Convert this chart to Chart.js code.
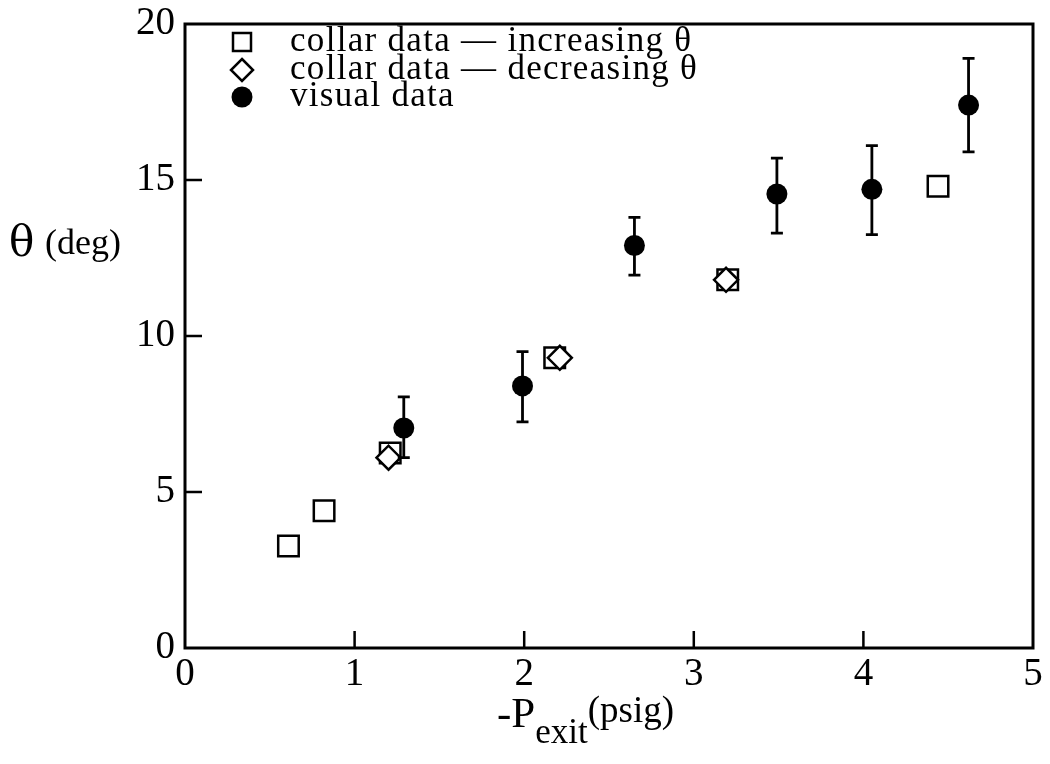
<!DOCTYPE html>
<html><head><meta charset="utf-8">
<script src="https://cdn.jsdelivr.net/npm/chart.js@4.4.0/dist/chart.umd.min.js"></script>
<style>html,body{margin:0;padding:0;background:#fff;}</style>
</head><body>
<canvas id="c" width="1050" height="764"></canvas>
<script>
// collar data — increasing theta
const incX = [0.61, 0.82, 1.21, 2.18, 3.20, 4.44];
const incY = [3.27, 4.40, 6.25, 9.30, 11.80, 14.80];
// collar data — decreasing theta
const decX = [1.20, 2.21, 3.19];
const decY = [6.10, 9.30, 11.80];
// visual data with error bars
const visX = [1.29, 1.99, 2.65, 3.49, 4.05, 4.62];
const visY = [7.05, 8.40, 12.90, 14.55, 14.70, 17.40];
const visHi = [8.05, 9.50, 13.80, 15.70, 16.10, 18.90];
const visLo = [6.10, 7.25, 11.95, 13.30, 13.25, 15.90];
// axis ticks
const xTicks = [0, 1, 2, 3, 4, 5];
const yTicks = [0, 5, 10, 15, 20];
const legendLabels = ['collar data \u2014 increasing \u03b8', 'collar data \u2014 decreasing \u03b8', 'visual data'];

const SERIF = '"Liberation Serif", "Times New Roman", serif';
const toPts = (xs, ys) => xs.map((x, i) => ({x: x, y: ys[i]}));

const errorBars = {
  id: 'errorBars',
  afterDatasetsDraw(chart) {
    const ctx = chart.ctx, xs = chart.scales.x, ys = chart.scales.y;
    ctx.save();
    ctx.strokeStyle = '#000';
    ctx.lineWidth = 2.8;
    visX.forEach((x, i) => {
      const px = xs.getPixelForValue(x);
      const top = ys.getPixelForValue(visHi[i]);
      const bot = ys.getPixelForValue(visLo[i]);
      ctx.beginPath();
      ctx.moveTo(px, top); ctx.lineTo(px, bot);
      ctx.moveTo(px - 6, top); ctx.lineTo(px + 6, top);
      ctx.moveTo(px - 6, bot); ctx.lineTo(px + 6, bot);
      ctx.stroke();
    });
    ctx.restore();
  }
};

const frame = {
  id: 'frame',
  afterDraw(chart) {
    const ctx = chart.ctx, a = chart.chartArea, xs = chart.scales.x, ys = chart.scales.y;
    ctx.save();
    ctx.strokeStyle = '#000';
    ctx.lineWidth = 3;
    ctx.strokeRect(a.left, a.top, a.right - a.left, a.bottom - a.top);
    ctx.lineWidth = 2.5;
    ctx.beginPath();
    xTicks.slice(1, -1).forEach(v => {
      const px = xs.getPixelForValue(v);
      ctx.moveTo(px, a.bottom); ctx.lineTo(px, a.bottom - 17);
    });
    yTicks.slice(1, -1).forEach(v => {
      const py = ys.getPixelForValue(v);
      ctx.moveTo(a.left, py); ctx.lineTo(a.left + 17, py);
    });
    ctx.stroke();

    // legend
    const lx = 242, rows = [42, 70, 97];
    ctx.lineWidth = 2.5;
    ctx.fillStyle = '#fff';
    ctx.beginPath(); ctx.rect(lx - 9, rows[0] - 9, 18, 18); ctx.fill(); ctx.stroke();
    ctx.beginPath();
    ctx.moveTo(lx, rows[1] - 11); ctx.lineTo(lx + 11, rows[1]); ctx.lineTo(lx, rows[1] + 11); ctx.lineTo(lx - 11, rows[1]); ctx.closePath();
    ctx.fill(); ctx.stroke();
    ctx.fillStyle = '#000';
    ctx.beginPath(); ctx.arc(lx, rows[2], 10.5, 0, Math.PI * 2); ctx.fill();
    ctx.font = '35px ' + SERIF;
    ctx.letterSpacing = '1.3px';
    ctx.textBaseline = 'alphabetic';
    ctx.textAlign = 'left';
    legendLabels.forEach((t, i) => ctx.fillText(t, 290, rows[i] + 9));
    ctx.letterSpacing = '0px';

    // y title
    ctx.font = '42px "DejaVu Serif", serif';
    ctx.fillText('\u03b8', 9, 256);
    ctx.font = '36px ' + SERIF;
    ctx.fillText('(deg)', 45, 254);

    // x title
    let x0 = 497;
    ctx.font = '43px ' + SERIF;
    ctx.fillText('-P', x0, 727);
    x0 += ctx.measureText('-P').width;
    ctx.font = '35px ' + SERIF;
    ctx.fillText('exit', x0, 743);
    x0 += ctx.measureText('exit').width;
    ctx.font = '37px ' + SERIF;
    ctx.fillText('(psig)', x0, 722);
    ctx.restore();
  }
};

new Chart(document.getElementById('c'), {
  type: 'scatter',
  data: {
    datasets: [
      { label: legendLabels[2], data: toPts(visX, visY), order: 0,
        pointStyle: 'circle', pointRadius: 10.5, pointHoverRadius: 10.5,
        backgroundColor: '#000', borderColor: '#000', borderWidth: 0 },
      { label: legendLabels[1], data: toPts(decX, decY), order: 1,
        pointStyle: 'rectRot', pointRadius: 12, pointHoverRadius: 12,
        backgroundColor: '#fff', borderColor: '#000', borderWidth: 2.5 },
      { label: legendLabels[0], data: toPts(incX, incY), order: 2,
        pointStyle: 'rect', pointRadius: 14.5, pointHoverRadius: 14.5,
        backgroundColor: '#fff', borderColor: '#000', borderWidth: 2.5 }
    ]
  },
  options: {
    responsive: false,
    devicePixelRatio: 1,
    animation: false,
    layout: { padding: { left: 0, top: 24, right: 11, bottom: 0 } },
    plugins: { legend: { display: false }, tooltip: { enabled: false } },
    scales: {
      x: {
        type: 'linear', min: 0, max: 5,
        afterFit: s => { s.height = 116; s.paddingLeft = 0; s.paddingRight = 0; },
        afterBuildTicks: s => { s.ticks = xTicks.map(v => ({value: v})); },
        grid: { display: false, drawTicks: false },
        border: { display: false },
        ticks: { color: '#000', padding: 3, font: { family: SERIF, size: 39 } }
      },
      y: {
        type: 'linear', min: 0, max: 20,
        afterFit: s => { s.width = 185; s.paddingTop = 0; s.paddingBottom = 0; },
        afterBuildTicks: s => { s.ticks = yTicks.map(v => ({value: v})); },
        grid: { display: false, drawTicks: false },
        border: { display: false },
        ticks: { color: '#000', padding: 10, font: { family: SERIF, size: 39 } }
      }
    }
  },
  plugins: [errorBars, frame]
});
</script>
</body></html>
